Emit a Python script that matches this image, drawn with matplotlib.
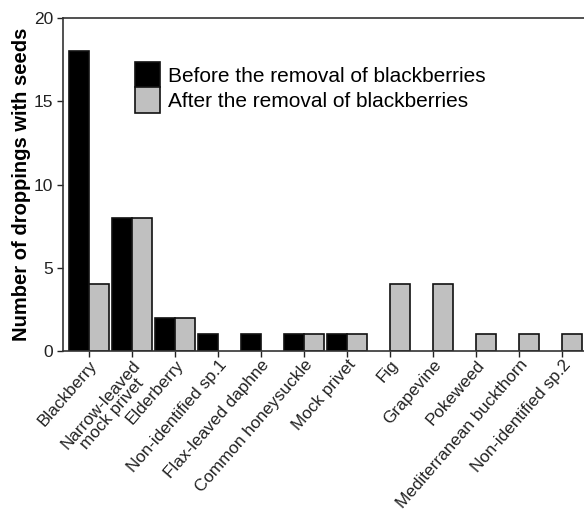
import matplotlib
matplotlib.use("Agg")
import matplotlib.pyplot as plt
import numpy as np

plt.rcParams['font.family'] = ['Liberation Sans', 'DejaVu Sans']

species = ["Blackberry", "Narrow-leaved\nmock privet", "Elderberry", "Non-identified sp.1",
           "Flax-leaved daphne", "Common honeysuckle", "Mock privet", "Fig", "Grapevine",
           "Pokeweed", "Mediterranean buckthorn", "Non-identified sp.2"]
before = [18, 8, 2, 1, 1, 1, 1, 0, 0, 0, 0, 0]
after = [4, 8, 2, 0, 0, 1, 1, 4, 4, 1, 1, 1]
yticks = [0, 5, 10, 15, 20]

fig = plt.figure(figsize=(5.84, 5.17), dpi=100)
ax = fig.add_axes([0.108, 0.321, 0.892, 0.644])

x = np.arange(len(species))
w = 0.46
b_vals = np.array(before, dtype=float)
a_vals = np.array(after, dtype=float)
bm = b_vals > 0
am = a_vals > 0
ax.bar(x[bm] - w / 2, b_vals[bm], width=w, color="black", edgecolor="#111111",
       linewidth=1.2, label="Before the removal of blackberries", zorder=2)
ax.bar(x[am] + w / 2, a_vals[am], width=w, color="#c0c0c0", edgecolor="#111111",
       linewidth=1.2, label="After the removal of blackberries", zorder=2)

ax.set_xlim(-0.6, 11.51)
ax.set_ylim(0, 20)
ax.set_yticks(yticks)
ax.tick_params(axis='y', labelsize=12.5, length=4, width=1, direction='out',
               colors='#222222', pad=3)
ax.set_xticks(x)
ax.set_xticklabels(species, rotation=49, ha='right', rotation_mode='anchor',
                   fontsize=12.3, multialignment='center', linespacing=1.0)
ax.tick_params(axis='x', length=4, width=1, direction='out', colors='#222222', pad=0.5)

for s in ['left', 'bottom', 'top']:
    ax.spines[s].set_color('#333333')
    ax.spines[s].set_linewidth(1.2)
ax.spines['right'].set_visible(False)

ax.set_ylabel("Number of droppings with seeds", fontsize=14.5, fontweight='bold', labelpad=2)

leg = ax.legend(loc='upper left', bbox_to_anchor=(0.122, 0.893), frameon=False,
                fontsize=15, handlelength=1.2, handleheight=1.5, handletextpad=0.4,
                labelspacing=0.0, borderaxespad=0)

fig.savefig("out.png", dpi=100)
